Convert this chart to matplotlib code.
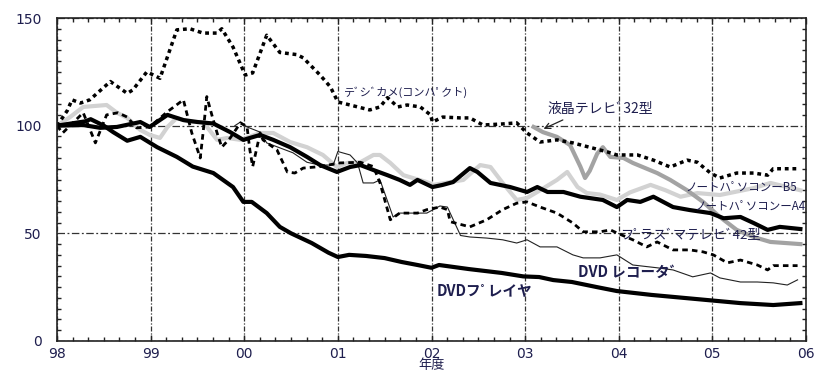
import matplotlib
matplotlib.use('Agg')
import matplotlib.pyplot as plt
from matplotlib.ticker import MultipleLocator, FixedLocator

plt.rcParams['font.family'] = ['Noto Sans CJK JP', 'DejaVu Sans']

# x = years since 1998 (98 -> 0, 06 -> 8), y = index (start = 100)
dvdp_x = [0, 0.15, 0.3, 0.36, 0.5, 0.6, 0.75, 0.89, 1.07, 1.28, 1.45, 1.67, 1.88, 1.99, 2.08, 2.24, 2.38,
          2.5, 2.72, 2.9, 3.0, 3.12, 3.3, 3.5, 3.68, 3.85, 4.0, 4.08, 4.4, 4.75, 4.98, 5.15, 5.3, 5.5,
          5.77, 5.98, 6.35, 6.6, 6.95, 7.3, 7.65, 7.94]
dvdp_y = [100, 101, 102, 103, 100, 97, 93, 94.8, 90, 85.5, 81, 78, 71.5, 64.6, 64.6, 59.4, 53,
          50, 45.5, 41, 39, 40, 39.5, 38.5, 36.7, 35.3, 34, 35.3, 33.4, 31.6, 30, 29.7, 28.3, 27.4,
          25, 23.2, 21.4, 20.4, 19, 17.6, 16.7, 17.6]

a4_x = [0, 0.28, 0.46, 0.64, 0.89, 0.99, 1.18, 1.35, 1.5, 1.67, 1.85, 1.99, 2.17, 2.31, 2.49, 2.67,
        2.81, 2.99, 3.13, 3.24, 3.38, 3.53, 3.66, 3.77, 3.85, 4.01, 4.12, 4.23, 4.41, 4.49, 4.63, 4.84,
        5.02, 5.13, 5.24, 5.41, 5.59, 5.83, 5.98, 6.09, 6.23, 6.37, 6.58, 6.76, 6.98, 7.12, 7.3, 7.44,
        7.59, 7.72, 7.94]
a4_y = [100, 100.3, 99, 99.4, 101.7, 99.4, 105, 102.6, 101.7, 101, 97, 93.4, 95.7, 93.4, 90, 85.5,
        81.7, 78.5, 80.8, 81.7, 79.4, 77, 74.8, 72.5, 74.8, 71.5, 72.5, 73.8, 80.3, 78.5, 73.4, 71.5,
        69.2, 71.5, 69.2, 69.2, 67, 65.5, 62.2, 65.5, 64.6, 67, 62.2, 60.8, 59.4, 57, 57.6, 54.8,
        51.6, 53, 52]

b5_x = [0, 0.14, 0.28, 0.53, 0.64, 0.75, 0.89, 0.99, 1.1, 1.18, 1.28, 1.42, 1.56, 1.71, 1.82, 1.96,
        2.17, 2.31, 2.49, 2.67, 2.84, 2.99, 3.1, 3.24, 3.38, 3.45, 3.56, 3.7, 3.8, 3.95, 4.02, 4.34,
        4.52, 4.63, 4.76, 4.91, 5.02, 5.16, 5.34, 5.45, 5.56, 5.66, 5.8, 5.98, 6.12, 6.34, 6.5, 6.66,
        6.84, 7.08, 7.44, 7.62, 7.8, 7.94]
b5_y = [100, 104, 108.7, 109.6, 106, 103.6, 98, 95.7, 94.3, 99.4, 103.6, 101.7, 101.7, 93.4, 94.3, 93.4,
        96.6, 96.6, 92.4, 90, 86.4, 80.8, 82.7, 83, 86.4, 86.4, 82.7, 77, 75.7, 73.8, 72.5, 74.8,
        81.7, 80.8, 73.4, 65.5, 66.4, 70, 74.8, 78.5, 71.5, 68.7, 68, 65.5, 69, 72.5, 70, 67,
        68.7, 67.8, 71, 73.4, 71.5, 70]

lcd_x = [5.09, 5.19, 5.34, 5.48, 5.59, 5.64, 5.69, 5.77, 5.83, 5.91, 6.05, 6.15, 6.41, 6.55, 6.73,
         6.9, 7.08, 7.26, 7.44, 7.62, 7.94]
lcd_y = [99.4, 97, 94.8, 91, 81, 75.7, 79, 87, 90, 85.5, 85, 82.7, 78, 74.8, 70,
         64.6, 57.6, 51.6, 48.3, 46, 45]

cam_x = [0, 0.11, 0.16, 0.25, 0.35, 0.57, 0.75, 0.81, 0.96, 1.1, 1.28, 1.42, 1.56, 1.71, 1.76, 1.88,
         2.01, 2.09, 2.24, 2.38, 2.56, 2.63, 2.81, 2.92, 3.0, 3.13, 3.34, 3.45, 3.53, 3.64, 3.74, 3.88,
         3.99, 4.01, 4.12, 4.31, 4.41, 4.55, 4.76, 4.91, 5.02, 5.16, 5.34, 5.51, 5.88, 5.98, 6.2, 6.37,
         6.55, 6.73, 6.84, 6.98, 7.08, 7.26, 7.44, 7.59, 7.65, 7.91]
cam_y = [100, 107, 112, 110.5, 112, 120.5, 115, 116.6, 125, 122, 144.5, 145, 143, 143, 145, 136.5,
         123.5, 124.5, 142, 134, 133, 131.5, 123.5, 118, 111, 109.6, 107.3, 108.7, 113, 108.7, 109.6, 108.7,
         105, 101.7, 104, 103.6, 103.6, 100.3, 100.8, 101.3, 96.6, 92.4, 93.4, 92, 87.8, 86.4, 86.4, 84,
         80.8, 84, 83, 78, 75.7, 78, 78, 77, 80, 80]

pdp_x = [0, 0.06, 0.28, 0.41, 0.53, 0.65, 0.75, 0.85, 0.99, 1.18, 1.35, 1.44, 1.53, 1.56, 1.6, 1.66,
         1.71, 1.76, 1.85, 1.96, 2.03, 2.06, 2.09, 2.17, 2.2, 2.35, 2.46, 2.54, 2.63, 2.81, 3.02, 3.24,
         3.38, 3.45, 3.56, 3.66, 3.85, 3.95, 4.09, 4.17, 4.2, 4.41, 4.59, 4.76, 4.91, 5.02, 5.16, 5.34,
         5.51, 5.62, 5.8, 5.91, 5.98, 6.15, 6.3, 6.41, 6.58, 6.76, 6.9, 7.01, 7.16, 7.3, 7.48, 7.59,
         7.65, 7.91]
pdp_y = [100, 96.6, 106, 92, 105, 106, 104, 99, 99.4, 106.5, 112, 96.6, 85, 96.6, 113.5, 104,
         96.6, 90, 94.3, 101.3, 99.4, 88.7, 81, 96.6, 93.4, 88.7, 78.5, 78, 80.3, 81, 82.7, 83,
         81, 73.4, 56.3, 59.4, 59.4, 61, 62.2, 61, 55.4, 53, 56.3, 61, 64, 64.6, 62.2, 59.4,
         54.8, 50.7, 50.7, 51.6, 50.2, 47, 43.7, 46, 42.3, 42.3, 41.4, 40, 36.3, 37.6, 35.3, 33,
         35, 35]

dvdr_x = [1.9, 1.96, 2.03, 2.17, 2.24, 2.52, 2.67, 2.81, 2.95, 3.0, 3.13, 3.21, 3.27, 3.38, 3.45, 3.59,
          3.66, 3.95, 4.09, 4.17, 4.31, 4.41, 4.59, 4.76, 4.91, 5.02, 5.16, 5.34, 5.51, 5.62, 5.8, 5.98,
          6.15, 6.41, 6.58, 6.79, 6.98, 7.08, 7.3, 7.48, 7.65, 7.8, 7.91]
dvdr_y = [100, 101.7, 99.4, 97, 92, 87.4, 83, 81.7, 81.7, 88, 86.4, 82.7, 73.4, 73.4, 74.8, 57.6,
          59.4, 59.4, 62.7, 62.2, 49, 48.3, 47.8, 47, 45.5, 47, 43.7, 43.7, 40, 38.6, 38.6, 40,
          35.3, 34, 33, 29.8, 31.6, 29.3, 27.4, 27.4, 27, 26, 28.4]

year_labels = ['98', '99', '00', '01', '02', '03', '04', '05', '06']
y_labels = ['0', '50', '100', '150']

txt_color = '#1e1e4e'
jp = ['Noto Sans CJK JP']

fig = plt.figure(figsize=(8.17, 3.72), dpi=100)
ax = fig.add_axes([57 / 817, 31 / 372, 749 / 817, 323 / 372])

ax.plot(b5_x, b5_y, color='#d2d2d2', lw=3, solid_joinstyle='round')
ax.plot(lcd_x, lcd_y, color='#a3a3a3', lw=3, solid_joinstyle='round')
ax.plot(dvdr_x, dvdr_y, color='#222222', lw=0.8)
ax.plot(pdp_x, pdp_y, color='black', lw=2, linestyle=(0, (2, 1.5)))
ax.plot(cam_x, cam_y, color='black', lw=2.5, linestyle=(0, (1.1, 1.1)))
ax.plot(a4_x, a4_y, color='black', lw=3, solid_joinstyle='round')
ax.plot(dvdp_x, dvdp_y, color='black', lw=3, solid_joinstyle='round')

ax.set_xlim(0, 8)
ax.set_ylim(0, 150)
ax.xaxis.set_major_locator(FixedLocator(range(9)))
ax.set_xticklabels(year_labels)
ax.xaxis.set_minor_locator(MultipleLocator(1 / 6))
ax.yaxis.set_major_locator(FixedLocator([0, 50, 100, 150]))
ax.set_yticklabels(y_labels)
ax.yaxis.set_minor_locator(MultipleLocator(5))
ax.tick_params(which='both', direction='in', top=True, right=True, width=1, colors='#222222',
               labelcolor=txt_color, labelsize=10)
ax.tick_params(which='major', length=4)
ax.tick_params(which='minor', length=3)
ax.tick_params(axis='y', which='major', length=0, pad=11)
ax.tick_params(axis='x', which='major', pad=4)
for lab in ax.get_xticklabels() + ax.get_yticklabels():
    lab.set_family(['DejaVu Sans'])

for s in ax.spines.values():
    s.set_linewidth(1.2)
    s.set_color('#222222')

ax.grid(axis='x', which='major', color='#333333', lw=0.9, linestyle=(0, (4, 1.5, 1, 1.5)))
ax.grid(axis='y', which='major', color='#333333', lw=0.9, linestyle=(0, (6, 2, 1.5, 2)))
ax.set_axisbelow(True)

ax.set_xlabel('年度', fontsize=9.5, color=txt_color, labelpad=-1)

ax.text(3.06, 115.7, 'テﾞシﾞカメ(コンハﾟクト)', fontsize=8, color=txt_color, va='center')
ax.text(5.24, 107.8, '液晶テレヒﾞ32型', fontsize=10, color=txt_color, va='center')
ax.annotate('', xy=(5.17, 98), xytext=(5.43, 103.2),
            arrowprops=dict(arrowstyle='->', color='#222222', lw=0.9))
ax.text(6.71, 71.5, 'ノートハﾟソコンーB5', fontsize=8.3, color=txt_color, va='center')
ax.text(6.81, 62.7, 'ノートハﾟソコンーA4', fontsize=8.3, color=txt_color, va='center')
ax.text(6.01, 48.8, 'フﾟラスﾞマテレヒﾞ42型', fontsize=9.5, color=txt_color, va='center')
ax.text(5.56, 32, 'DVD レコータﾞ', fontsize=10.5, color=txt_color, va='center',
        fontweight='bold', family=jp)
ax.text(4.06, 23.7, 'DVDフﾟレイヤ', fontsize=10.5, color=txt_color, va='center',
        fontweight='bold', family=jp)

fig.savefig('out.png', dpi=100)
